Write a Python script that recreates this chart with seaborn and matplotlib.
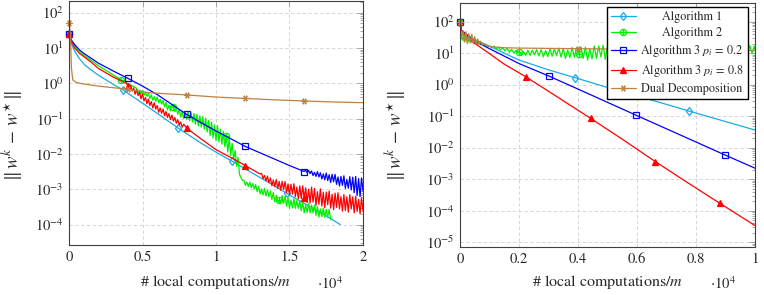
import numpy as np
import matplotlib
matplotlib.use("Agg")
import matplotlib.pyplot as plt
from matplotlib.path import Path
from matplotlib.ticker import LogLocator, NullFormatter, NullLocator, FixedLocator
import seaborn as sns

# ---------------- data (x in units of 10^4, y given as log10 of ||w^k - w*||) -------------
# Left panel
alg1_L_x = [0, 0.01, 0.02, 0.04, 0.07, 0.107, 0.15, 0.198, 0.289, 0.368, 0.516, 0.6, 0.743,
            0.9, 1.0, 1.107, 1.25, 1.35, 1.482, 1.6, 1.7, 1.845]
alg1_L_y = [1.40, 1.20, 1.08, 0.90, 0.70, 0.52, 0.38, 0.235, 0.0, -0.19, -0.61, -0.85, -1.27,
            -1.70, -1.95, -2.20, -2.55, -2.79, -3.12, -3.40, -3.63, -4.0]

alg2_L_x = ([0, 0.01, 0.02, 0.04, 0.07, 0.1, 0.15, 0.2, 0.3, 0.357, 0.45,
             0.46, 0.47, 0.48, 0.49, 0.50, 0.51, 0.52, 0.53, 0.54, 0.55, 0.56, 0.57, 0.58, 0.59,
             0.60, 0.61, 0.62, 0.63, 0.64, 0.65, 0.66, 0.67, 0.68, 0.69, 0.70, 0.71, 0.72, 0.73,
             0.74, 0.75, 0.76, 0.77, 0.78, 0.79, 0.80, 0.81, 0.82, 0.83, 0.84, 0.85, 0.86, 0.87,
             0.88, 0.89, 0.90, 0.91, 0.92, 0.93, 0.94, 0.95, 0.96, 0.97, 0.98, 0.99, 1.00, 1.01,
             1.02, 1.03, 1.04, 1.05, 1.06, 1.07, 1.08, 1.09, 1.10,
             1.11, 1.12, 1.13, 1.14, 1.15, 1.16, 1.17, 1.18,
             1.19, 1.20, 1.21, 1.22, 1.23, 1.24, 1.25, 1.26, 1.27, 1.28,
             1.29, 1.30, 1.31, 1.32, 1.33, 1.34, 1.35, 1.36, 1.37, 1.38,
             1.39, 1.40, 1.41, 1.42, 1.43, 1.44, 1.45, 1.46, 1.47, 1.48,
             1.49, 1.50, 1.51, 1.52, 1.53, 1.54, 1.55, 1.56, 1.57, 1.58,
             1.59, 1.60, 1.61, 1.62, 1.63, 1.64, 1.65, 1.66, 1.67, 1.68,
             1.69, 1.70, 1.71, 1.72, 1.73, 1.74, 1.75, 1.76, 1.77, 1.78])
alg2_L_y = ([1.40, 1.27, 1.18, 1.05, 0.90, 0.80, 0.65, 0.50, 0.24, 0.09, -0.12,
             -0.14, -0.27, -0.19, -0.30, -0.20, -0.34, -0.25, -0.37, -0.28, -0.43, -0.33, -0.48,
             -0.38, -0.51, -0.39, -0.55, -0.45, -0.59, -0.49, -0.67, -0.54, -0.75, -0.62, -0.78,
             -0.63, -0.66, -0.80, -0.70, -0.88, -0.74, -0.96, -0.80, -1.00, -0.82, -1.02, -0.80,
             -1.06, -0.84, -1.10, -0.86, -1.16, -0.88, -1.21, -0.92, -1.24, -0.95, -1.30, -0.99,
             -1.38, -1.05, -1.48, -1.10, -1.55, -1.18, -1.62, -1.20, -1.66, -1.30, -1.72, -1.36,
             -1.80, -1.49, -1.95, -1.55, -2.05,
             -1.70, -2.15, -1.90, -2.35, -2.10, -2.58, -2.68, -2.75,
             -2.75, -2.89, -2.80, -2.92, -2.80, -2.96, -2.84, -2.99, -2.87, -3.07,
             -2.92, -3.13, -2.99, -3.16, -2.98, -3.19, -3.02, -3.21, -3.05, -3.29,
             -3.09, -3.36, -3.17, -3.37, -3.31, -3.39, -3.18, -3.40, -3.20, -3.48,
             -3.24, -3.54, -3.31, -3.53, -3.27, -3.54, -3.32, -3.54, -3.33, -3.61,
             -3.37, -3.67, -3.44, -3.66, -3.40, -3.67, -3.45, -3.67, -3.45, -3.74,
             -3.49, -3.79, -3.56, -3.78, -3.53, -3.79, -3.57, -3.79, -3.57, -3.86])

alg3a_L_x = ([0, 0.01, 0.02, 0.04, 0.07, 0.1, 0.15, 0.2, 0.3, 0.4, 0.5, 0.6, 0.7, 0.8, 0.9, 1.0,
              1.1, 1.2, 1.3, 1.4, 1.5, 1.6,
              1.61, 1.62, 1.63, 1.64, 1.65, 1.66, 1.67, 1.68, 1.69, 1.70,
              1.71, 1.72, 1.73, 1.74, 1.75, 1.76, 1.77, 1.78, 1.79, 1.80,
              1.81, 1.82, 1.83, 1.84, 1.85, 1.86, 1.87, 1.88, 1.89, 1.90,
              1.91, 1.92, 1.93, 1.94, 1.95, 1.96, 1.97, 1.98, 1.99, 2.00])
alg3a_L_y = ([1.40, 1.28, 1.20, 1.09, 0.95, 0.85, 0.71, 0.57, 0.35, 0.14, -0.08, -0.32, -0.60,
              -0.88, -1.12, -1.35, -1.57, -1.79, -1.97, -2.15, -2.33, -2.50,
              -2.462, -2.536, -2.463, -2.558, -2.482, -2.613, -2.524, -2.638, -2.502, -2.653,
              -2.533, -2.712, -2.568, -2.734, -2.541, -2.755, -2.590, -2.811, -2.58, -2.79,
              -2.58, -2.862, -2.653, -2.91, -2.638, -2.893, -2.62, -2.975, -2.722, -2.972,
              -2.645, -3.02, -2.66, -3.10, -2.64, -3.18, -2.70, -3.21, -2.68, -3.05])

alg3b_L_x = ([0, 0.01, 0.02, 0.04, 0.07, 0.1, 0.15, 0.2, 0.3, 0.39,
              0.40, 0.41, 0.42, 0.43, 0.44, 0.45, 0.46, 0.47, 0.48, 0.49,
              0.50, 0.51, 0.52, 0.53, 0.54, 0.55, 0.56, 0.57, 0.58, 0.59,
              0.60, 0.61, 0.62, 0.63, 0.64, 0.65, 0.66, 0.67, 0.68, 0.69,
              0.70, 0.71, 0.72, 0.73, 0.74, 0.75, 0.76, 0.77, 0.78, 0.79,
              0.80, 0.9, 1.0, 1.1, 1.2, 1.25, 1.3,
              1.31, 1.32, 1.33, 1.34, 1.35, 1.36, 1.37, 1.38, 1.39, 1.40,
              1.41, 1.42, 1.43, 1.44, 1.45, 1.46, 1.47, 1.48, 1.49, 1.50,
              1.51, 1.52, 1.53, 1.54, 1.55, 1.56, 1.57, 1.58, 1.59, 1.60,
              1.61, 1.62, 1.63, 1.64, 1.65, 1.66, 1.67, 1.68, 1.69, 1.70,
              1.71, 1.72, 1.73, 1.74, 1.75, 1.76, 1.77, 1.78, 1.79, 1.80,
              1.81, 1.82, 1.83, 1.84, 1.85, 1.86, 1.87, 1.88, 1.89, 1.90,
              1.91, 1.92, 1.93, 1.94, 1.95, 1.96, 1.97, 1.98, 1.99, 2.00])
alg3b_L_y = ([1.40, 1.25, 1.16, 0.99, 0.85, 0.76, 0.60, 0.42, 0.18, 0.0,
              -0.07, -0.17, -0.06, -0.22, -0.135, -0.31, -0.18, -0.35, -0.26, -0.44,
              -0.30, -0.50, -0.40, -0.58, -0.445, -0.63, -0.52, -0.70, -0.55, -0.73,
              -0.63, -0.82, -0.70, -0.85, -0.73, -0.92, -0.80, -0.97, -0.86, -1.03,
              -0.90, -1.07, -0.97, -1.13, -1.03, -1.18, -1.10, -1.24, -1.16, -1.21,
              -1.27, -1.58, -1.88, -2.10, -2.33, -2.45, -2.57,
              -2.55, -2.70, -2.61, -2.76, -2.63, -2.815, -2.68, -2.90, -2.74, -2.93,
              -2.725, -2.98, -2.78, -3.03, -2.78, -3.01, -2.785, -3.09, -2.85, -3.15,
              -2.86, -3.14, -2.845, -3.21, -2.94, -3.27, -2.905, -3.27, -2.905, -3.26,
              -2.96, -3.38, -3.0, -3.39, -2.94, -3.365, -2.975, -3.46, -3.07, -3.43,
              -2.99, -3.475, -3.085, -3.52, -3.08, -3.44, -3.05, -3.535, -3.145, -3.58,
              -3.11, -3.515, -3.10, -3.555, -3.21, -3.62, -3.15, -3.605, -3.215, -3.65,
              -3.155, -3.56, -3.215, -3.67, -3.20, -3.63, -3.29, -3.695, -3.25, -3.625])

dual_L_x = [0, 0.0095, 0.016, 0.022, 0.027, 0.05, 0.1, 0.2, 0.4, 0.55, 0.8, 1.0, 1.2, 1.4,
            1.6, 1.8, 2.0]
dual_L_y = [1.72, 1.42, 0.47, 0.22, 0.09, 0.02, -0.02, -0.08, -0.17, -0.27, -0.33, -0.39,
            -0.43, -0.47, -0.50, -0.53, -0.55]

# Right panel
alg1_R_x = [0, 0.005, 0.02, 0.05, 0.096, 0.2, 0.3, 0.39, 0.5, 0.6, 0.777, 0.9, 1.0]
alg1_R_y = [2.0, 1.73, 1.61, 1.43, 1.24, 0.78, 0.47, 0.22, -0.09, -0.35, -0.84, -1.17, -1.44]

alg2_R_x = ([0, 0.005, 0.01, 0.015, 0.02, 0.025, 0.03, 0.035, 0.04, 0.045, 0.05, 0.055, 0.06,
             0.065, 0.07, 0.075,
             0.085, 0.0925, 0.1, 0.1075, 0.115, 0.1225, 0.13, 0.1375, 0.145, 0.1525, 0.16,
             0.1675, 0.175, 0.1825, 0.19,
             0.2, 0.2075, 0.215, 0.2225, 0.23, 0.2375, 0.245, 0.2525, 0.26, 0.2675,
             0.275, 0.2825, 0.29, 0.2975, 0.305, 0.3125, 0.32, 0.3275, 0.335, 0.3425,
             0.35, 0.3575, 0.365, 0.3725, 0.38, 0.3875, 0.395, 0.4025, 0.41, 0.4175,
             0.425, 0.4325, 0.44, 0.4475, 0.455, 0.4625, 0.47, 0.4775, 0.485, 0.4925, 0.5,
             0.52, 0.54, 0.56, 0.58, 0.60, 0.62, 0.64, 0.66, 0.68, 0.70, 0.72, 0.74, 0.76,
             0.78, 0.80, 0.82, 0.84, 0.86, 0.88, 0.90, 0.92, 0.94, 0.96,
             0.9675, 0.975, 0.9825, 0.99, 0.9975, 1.0])
alg2_R_y = ([2.0, 1.55, 1.40, 1.62, 1.38, 1.55, 1.36, 1.50, 1.34, 1.45, 1.30, 1.40, 1.28, 1.36,
             1.26, 1.31,
             1.27, 1.19, 1.23, 1.165, 1.22, 1.135, 1.19, 1.10, 1.17, 1.07, 1.15, 1.03, 1.12,
             1.00, 1.09,
             1.03, 0.93, 1.05, 0.93, 1.09, 0.93, 1.09, 0.95, 1.11, 0.91,
             1.11, 0.88, 1.08, 0.89, 1.14, 0.90, 1.13, 0.92, 1.16, 0.87,
             1.15, 0.83, 1.10, 0.86, 1.18, 0.87, 1.17, 0.98, 1.20, 0.83,
             1.19, 0.78, 1.13, 0.82, 1.23, 0.83, 1.22, 0.88, 1.25, 0.80, 1.23,
             0.80, 1.22, 0.82, 1.24, 0.79, 1.21, 0.84, 1.23, 0.80, 1.20, 0.83, 1.24, 0.81,
             1.22, 0.85, 1.21, 0.82, 1.23, 0.86, 1.22, 0.90, 1.24, 0.95,
             1.22, 0.98, 1.24, 1.00, 1.22, 1.10])

alg3a_R_x = [0, 0.005, 0.02, 0.05, 0.096, 0.2, 0.302, 0.45, 0.597, 0.75, 0.898, 1.0]
alg3a_R_y = [2.0, 1.73, 1.59, 1.39, 1.16, 0.67, 0.27, -0.35, -0.97, -1.61, -2.23, -2.65]

alg3b_R_x = [0, 0.005, 0.02, 0.05, 0.096, 0.15, 0.223, 0.3, 0.443, 0.55, 0.662, 0.77, 0.88, 1.0]
alg3b_R_y = [2.0, 1.73, 1.57, 1.31, 1.01, 0.65, 0.25, -0.21, -1.07, -1.73, -2.44, -3.10,
             -3.76, -4.47]

dual_R_x = [0, 0.005, 0.01, 0.015, 0.02, 0.025, 0.03, 0.035, 0.04, 0.045, 0.05, 0.055, 0.06,
            0.065, 0.07, 0.075, 0.08, 0.09, 0.1, 0.15, 0.2, 0.4, 0.6, 0.8, 1.0]
dual_R_y = [2.0, 1.45, 1.70, 1.35, 1.68, 1.30, 1.62, 1.32, 1.60, 1.30, 1.52, 1.30, 1.45, 1.28,
            1.38, 1.26, 1.30, 1.24, 1.21, 1.17, 1.16, 1.14, 1.12, 1.10, 1.08]

labels = ["Algorithm 1", "Algorithm 2", r"Algorithm 3 $p_i\,=\,0.2$",
          r"Algorithm 3 $p_i\,=\,0.8$", "Dual Decomposition"]
xticks_L = [0, 0.5, 1, 1.5, 2]
xticklabels_L = ["0", "0.5", "1", "1.5", "2"]
xticks_R = [0, 0.2, 0.4, 0.6, 0.8, 1]
xticklabels_R = ["0", "0.2", "0.4", "0.6", "0.8", "1"]
ydecades_L = [-4, -3, -2, -1, 0, 1, 2]
ydecades_R = [-5, -4, -3, -2, -1, 0, 1, 2]

# ---------------- style ----------------
sns.set_style("white")
plt.rcParams["font.family"] = ["STIXGeneral", "DejaVu Serif"]
plt.rcParams["mathtext.fontset"] = "stix"

C_CYAN = "#1aaae6"
C_GREEN = "#00f000"
C_BLUE = "#0000ff"
C_RED = "#ff0000"
C_BROWN = "#bf8040"

circ = Path.unit_circle()
plus = Path([[-1, 0], [1, 0], [0, -1], [0, 1]],
            [Path.MOVETO, Path.LINETO, Path.MOVETO, Path.LINETO])
OPLUS = Path.make_compound_path(circ, plus)

styles = [
    dict(color=C_CYAN, marker="d", ms=4.5, mfc="none"),
    dict(color=C_GREEN, marker=OPLUS, ms=4.5, mfc="none"),
    dict(color=C_BLUE, marker="s", ms=5, mfc="none"),
    dict(color=C_RED, marker="^", ms=5, mfc=C_RED),
    dict(color=C_BROWN, marker=(6, 2, 90), ms=4.5, mfc="none"),
]

marks_L = [[0, 0.368, 0.743, 1.107, 1.482],
           [0, 0.357, 0.71, 1.07, 1.43],
           [0, 0.4, 0.8, 1.2, 1.6],
           [0, 0.4, 0.8, 1.2, 1.6],
           [0, 0.4, 0.8, 1.2, 1.6]]
marks_R = [[0, 0.39, 0.777],
           [0, 0.2, 0.4025],
           [0, 0.302, 0.597, 0.898],
           [0, 0.223, 0.443, 0.662, 0.88],
           [0, 0.4, 0.8]]

fig = plt.figure(figsize=(7.64, 2.95), dpi=100)
W, H = 764, 295
axL = fig.add_axes([69 / W, (H - 245) / H, 294 / W, 244 / H])
axR = fig.add_axes([460 / W, (H - 247) / H, 295 / W, 244 / H])

series_L = [(alg1_L_x, alg1_L_y), (alg2_L_x, alg2_L_y), (alg3a_L_x, alg3a_L_y),
            (alg3b_L_x, alg3b_L_y), (dual_L_x, dual_L_y)]
series_R = [(alg1_R_x, alg1_R_y), (alg2_R_x, alg2_R_y), (alg3a_R_x, alg3a_R_y),
            (alg3b_R_x, alg3b_R_y), (dual_R_x, dual_R_y)]


def draw(ax, series, marks, with_labels):
    ax.set_yscale("log")
    for k, ((xs, ys), st, mk) in enumerate(zip(series, styles, marks)):
        assert len(xs) == len(ys), (k, len(xs), len(ys))
        xs = np.asarray(xs, float)
        yv = 10.0 ** np.asarray(ys, float)
        idx = [int(np.argmin(np.abs(xs - m))) for m in mk]
        sns.lineplot(x=xs, y=yv, ax=ax, sort=False, estimator=None, legend=False,
                     color=st["color"], lw=0.9, marker=st["marker"], markevery=idx,
                     markersize=st["ms"], markerfacecolor=st["mfc"],
                     markeredgecolor=st["color"], markeredgewidth=0.9,
                     label=labels[k] if with_labels else None, clip_on=False)


draw(axL, series_L, marks_L, False)
draw(axR, series_R, marks_R, True)

axL.set_xlim(0, 2)
axR.set_xlim(0, 1)
axL.set_xticks(xticks_L, xticklabels_L)
axR.set_xticks(xticks_R, xticklabels_R)

for ax, decs, lims in ((axL, ydecades_L, (-4.58, 2.33)), (axR, ydecades_R, (-5.15, 2.59))):
    ax.yaxis.set_major_locator(FixedLocator([10.0 ** d for d in decs]))
    ax.yaxis.set_minor_locator(LogLocator(base=10, subs=np.arange(2, 10), numticks=30))
    ax.yaxis.set_minor_formatter(NullFormatter())
    ax.set_ylim(10 ** lims[0], 10 ** lims[1])
    ax.xaxis.set_minor_locator(NullLocator())
    ax.set_axisbelow(True)
    ax.grid(True, which="major", linestyle=(0, (4, 3)), color="#cfcfcf", lw=0.6)
    ax.tick_params(which="both", direction="in", top=True, right=True, color="#999999",
                   labelsize=10.5, width=0.6)
    ax.tick_params(which="major", length=4)
    ax.tick_params(which="minor", length=2.5)
    ax.tick_params(axis="y", pad=4)
    ax.tick_params(axis="x", pad=4)
    for sp in ax.spines.values():
        sp.set_color("#404040")
        sp.set_linewidth(0.8)
    ax.set_xlabel(r"# local computations$/m$", fontsize=11.5)
    ax.set_ylabel(r"$\|\,w^{k}\, -\, w^{\star}\,\|$", fontsize=13.5)

axL.xaxis.set_label_coords(0.5, -0.115)
axR.xaxis.set_label_coords(0.5, -0.107)
axL.yaxis.set_label_coords(-0.15, 0.447)
axR.yaxis.set_label_coords(-0.177, 0.455)

fig.text(317 / W, 1 - 289 / H, r"$\cdot10^{4}$", fontsize=10.5, va="baseline", ha="left")
fig.text(710 / W, 1 - 289 / H, r"$\cdot10^{4}$", fontsize=10.5, va="baseline", ha="left")

handles, labs = axR.get_legend_handles_labels()
leg = axR.legend(handles, labs, loc="upper right", bbox_to_anchor=(0.976, 0.984),
                 borderaxespad=0, fontsize=8.7, frameon=True, fancybox=False,
                 edgecolor="black", framealpha=1, handlelength=2.0, handletextpad=0.4,
                 labelspacing=0.33, borderpad=0.35, numpoints=1)
leg.get_frame().set_linewidth(1.0)

fig.canvas.draw()
rend = fig.canvas.get_renderer()
texts = leg.get_texts()
widths = [t.get_window_extent(rend).width for t in texts]
wmax = max(widths)
for t, w in zip(texts, widths):
    t.set_position(((wmax - w) / 2.0, 0))

fig.savefig("out.png", dpi=100)
